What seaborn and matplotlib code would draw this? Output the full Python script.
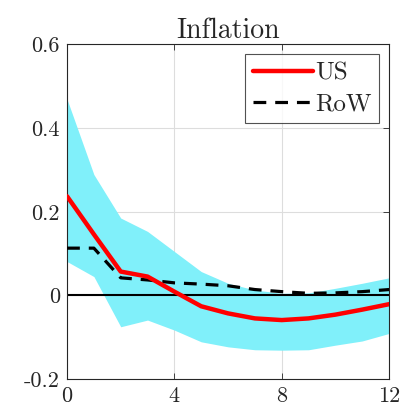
import matplotlib
matplotlib.use("Agg")
import matplotlib.pyplot as plt
import seaborn as sns
import pandas as pd
import numpy as np

horizon = list(range(13))
us = [0.237, 0.146, 0.057, 0.045, 0.009, -0.026, -0.043, -0.055, -0.059, -0.055, -0.046, -0.034, -0.021]
row = [0.113, 0.113, 0.042, 0.037, 0.030, 0.027, 0.023, 0.014, 0.009, 0.005, 0.006, 0.009, 0.014]
band_upper = [0.469, 0.289, 0.185, 0.153, 0.105, 0.057, 0.029, 0.013, 0.005, 0.006, 0.017, 0.029, 0.042]
band_lower = [0.081, 0.045, -0.075, -0.059, -0.083, -0.111, -0.123, -0.130, -0.131, -0.130, -0.119, -0.109, -0.091]
xticks = [0, 4, 8, 12]
yticks = [-0.2, 0, 0.2, 0.4, 0.6]
ytick_labels = ["-0.2", "0", "0.2", "0.4", "0.6"]
title = "Inflation"

sns.set_theme(style="white")
plt.rcParams['font.family'] = ['cmr10', 'DejaVu Serif']

df = pd.DataFrame({"h": horizon, "US": us, "RoW": row})

fig = plt.figure(figsize=(4.04, 4.12), dpi=100)
ax = fig.add_axes([0.166, 0.080, 0.797, 0.812])

ax.fill_between(horizon, band_lower, band_upper, color="#80F0FA", linewidth=0, zorder=1)
ax.axhline(0, color="black", lw=1.5, zorder=2)
sns.lineplot(data=df, x="h", y="US", ax=ax, color="red", lw=3.2, label="US", zorder=4)
sns.lineplot(data=df, x="h", y="RoW", ax=ax, color="black", lw=2.3, ls=(0, (4, 2.8)), label="RoW", zorder=3)

ax.set_xlim(0, 12)
ax.set_ylim(-0.2, 0.6)
ax.set_xticks(xticks)
ax.set_xticklabels([str(t) for t in xticks])
ax.set_yticks(yticks)
ax.set_yticklabels(ytick_labels)
ax.set_xlabel("")
ax.set_ylabel("")
ax.grid(True, color="#dddddd", lw=0.8)
ax.set_axisbelow(True)
for s in ax.spines.values():
    s.set_color("#262626")
    s.set_linewidth(0.8)
ax.tick_params(axis="both", direction="in", length=4, width=0.6, labelsize=16,
               top=True, right=True, left=True, bottom=True, colors="#262626", pad=5)
ax.tick_params(labelcolor="#262626")
ax.set_title(title, fontsize=20, color="#262626", pad=5)

leg = ax.legend(loc="upper right", fontsize=18, handlelength=2.4, handletextpad=0.1,
                borderaxespad=0.4, frameon=True, fancybox=False, borderpad=0.3,
                labelspacing=0.35, edgecolor="#262626")
leg.get_frame().set_linewidth(0.8)

fig.savefig("out.png", dpi=100)
